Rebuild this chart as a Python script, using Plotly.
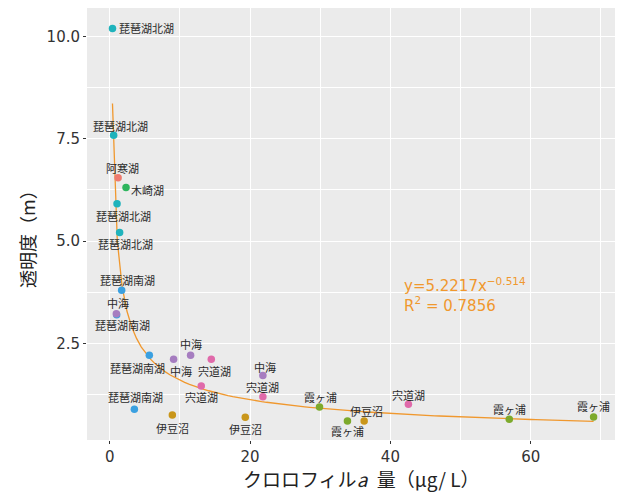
import numpy as np
import plotly.graph_objects as go

# Lake survey data: chlorophyll-a (µg/L) vs. Secchi depth (m)
lakes = ["琵琶湖北湖", "琵琶湖北湖", "阿寒湖", "木崎湖", "琵琶湖北湖", "琵琶湖北湖",
         "琵琶湖南湖", "琵琶湖南湖", "中海", "琵琶湖南湖", "中海", "中海", "宍道湖",
         "宍道湖", "中海", "宍道湖", "伊豆沼", "伊豆沼", "霞ヶ浦", "霞ヶ浦", "伊豆沼",
         "宍道湖", "霞ヶ浦", "霞ヶ浦", "琵琶湖南湖"]
chl = [0.40, 0.57, 1.20, 2.33, 1.05, 1.42,
       1.71, 1.00, 0.95, 5.65, 9.11, 11.53, 14.48,
       13.05, 21.83, 21.83, 8.93, 19.32, 29.90, 33.88, 36.26,
       42.56, 56.94, 68.95, 3.52]
secchi = [10.20, 7.59, 6.55, 6.31, 5.91, 5.21,
          3.80, 3.20, 3.22, 2.21, 2.11, 2.21, 2.11,
          1.455, 1.71, 1.19, 0.746, 0.69, 0.94, 0.60, 0.60,
          1.01, 0.64, 0.70, 0.89]

# Power-law fit y = a * x^b
fit_a = 5.2217
fit_b = -0.514
fit_r2 = 0.7856

lake_colors = {
    "阿寒湖": "#EE7A6E",
    "伊豆沼": "#C9961A",
    "霞ヶ浦": "#7DAA2C",
    "木崎湖": "#2EB55E",
    "琵琶湖北湖": "#1FB3BC",
    "琵琶湖南湖": "#3BA0E0",
    "中海": "#A67DC0",
    "宍道湖": "#E06AAA",
}

# Label offsets in pixels (right, down) from each point
label_shift = [(34, 0), (7, -9), (4, -10), (21, 2), (6, 12), (6, 12),
               (6, -10), (6, 10), (2, -11), (-12, 13), (7, 12), (0, -11), (3, 12),
               (0, 11), (2, -9), (0, -10), (0, 13), (0, 12), (1, -10), (0, 10), (2, -10),
               (0, -9), (0, -10), (0, -11), (1, -12)]

JP = "Noto Sans CJK JP, sans-serif"
NUM = "DejaVu Sans, sans-serif"
FIT_COLOR = "#F0982E"

fig = go.Figure()

# fitted curve evaluated on 101 points over the data range
xs = np.linspace(min(chl), max(chl), 101)
fig.add_trace(go.Scatter(x=xs, y=fit_a * xs ** fit_b, mode="lines",
                         line=dict(color=FIT_COLOR, width=1.3),
                         hoverinfo="skip", showlegend=False))

# draw points so that 中海 sits above the coincident 琵琶湖南湖 point
order = sorted(range(len(lakes)), key=lambda i: 1 if lakes[i] == "中海" else 0)
fig.add_trace(go.Scatter(
    x=[chl[i] for i in order], y=[secchi[i] for i in order], mode="markers",
    marker=dict(size=7.5, color=[lake_colors[lakes[i]] for i in order], line=dict(width=0)),
    text=[lakes[i] for i in order], hoverinfo="text", showlegend=False))

for name, x, y, (dx, dy) in zip(lakes, chl, secchi, label_shift):
    fig.add_annotation(x=x, y=y, xref="x", yref="y", text=name, showarrow=False,
                       xshift=dx, yshift=-dy, xanchor="center", yanchor="middle",
                       font=dict(family=JP, size=11, color="#2a2a2a"))

fig.add_annotation(x=41.6, y=3.68, xref="x", yref="y", xanchor="left", yanchor="middle",
                   align="left", showarrow=False,
                   text=f"y={fit_a}x<sup>−{abs(fit_b)}</sup><br>R<sup>2</sup> = {fit_r2}",
                   font=dict(family=NUM, size=15, color=FIT_COLOR))

# axis titles (positions in pixels from the bottom-left corner of the page)
fig.add_annotation(x=361, y=493 - 479, xref="paper", yref="paper", showarrow=False,
                   text="クロロフィル<i>a</i>\u2002量（μg/ L）",
                   xanchor="center", yanchor="middle",
                   font=dict(family=JP, size=19, color="#222222"))
fig.add_annotation(x=27, y=493 - 235, xref="paper", yref="paper", showarrow=False,
                   text="透明度（m）", textangle=-90,
                   xanchor="center", yanchor="middle",
                   font=dict(family=JP, size=18, color="#222222"))

axis_common = dict(
    showgrid=True, gridcolor="white", gridwidth=1.1, zeroline=False,
    ticks="outside", ticklen=3, tickwidth=1, tickcolor="#333333",
    tickfont=dict(family=NUM, size=15, color="#333333"),
    showline=False,
)

fig.update_xaxes(range=[-3.23, 72.0], tickvals=[0, 20, 40, 60], ticktext=["0", "20", "40", "60"],
                 minor=dict(tickvals=[10, 30, 50, 70], showgrid=True, gridcolor="white",
                            gridwidth=0.55, ticks=""),
                 **axis_common)
fig.update_yaxes(range=[0.135, 10.70], tickvals=[2.5, 5.0, 7.5, 10.0],
                 ticktext=["2.5", "5.0", "7.5", "10.0"],
                 minor=dict(tickvals=[1.25, 3.75, 6.25, 8.75], showgrid=True, gridcolor="white",
                            gridwidth=0.55, ticks=""),
                 **axis_common)

fig.update_layout(
    width=617, height=493,
    margin=dict(l=87, r=2, t=8, b=53),
    paper_bgcolor="white", plot_bgcolor="#EBEBEB",
    showlegend=False,
)

# convert the pixel positions of the axis titles to paper fractions
plot_w = 617 - 87 - 2
plot_h = 493 - 8 - 53
for ann in fig.layout.annotations:
    if ann.xref == "paper":
        ann.x = (ann.x - 87) / plot_w
        ann.y = (ann.y - 53) / plot_h

fig.write_html("out.html")
